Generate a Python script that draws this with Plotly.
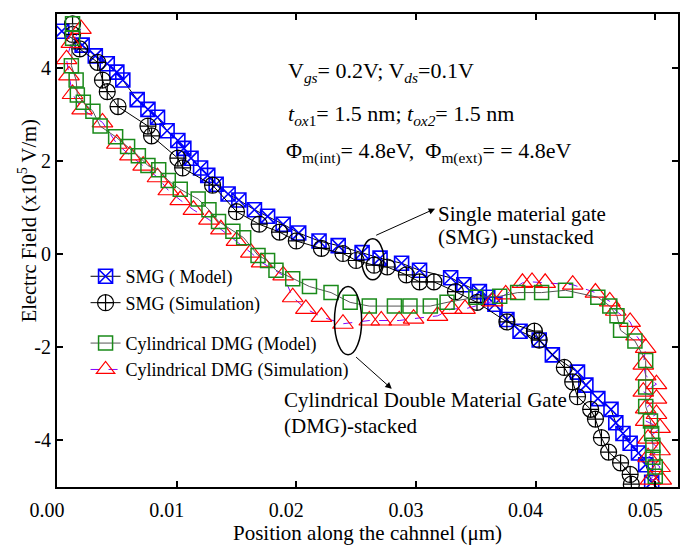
import plotly.graph_objects as go

# ---------------- data ----------------
smg_model_x = [0.0004, 0.0021, 0.0032, 0.0042, 0.0050, 0.0055, 0.0067, 0.0076, 0.0084, 0.0092,
               0.0101, 0.0106, 0.0112, 0.0120, 0.0126, 0.0133, 0.0143, 0.0152, 0.0165, 0.0176,
               0.0189, 0.0202, 0.0219, 0.0235, 0.0255, 0.0270, 0.0288, 0.0303, 0.0329, 0.0340,
               0.0353, 0.0360, 0.0366, 0.0376, 0.0387, 0.0403, 0.0414, 0.0435, 0.0442, 0.0452,
               0.0463, 0.0467, 0.0473, 0.0479, 0.0486, 0.0492, 0.0497]
smg_model_y = [4.80, 4.50, 4.27, 4.10, 3.92, 3.75, 3.33, 3.12, 2.95, 2.66,
               2.45, 2.28, 2.07, 1.86, 1.70, 1.51, 1.30, 1.17, 0.96, 0.82,
               0.65, 0.46, 0.29, 0.19, 0.04, -0.08, -0.19, -0.34, -0.50, -0.65,
               -0.80, -0.92, -1.07, -1.40, -1.65, -1.84, -2.16, -2.53, -2.81, -3.10,
               -3.33, -3.62, -3.85, -4.06, -4.27, -4.52, -4.90]

smg_sim_x = [0.0013, 0.0013, 0.0019, 0.0034, 0.0038, 0.0042, 0.0051, 0.0076, 0.0079, 0.0101,
             0.0105, 0.0130, 0.0150, 0.0169, 0.0186, 0.0200, 0.0221, 0.0239, 0.0250, 0.0265,
             0.0276, 0.0292, 0.0303, 0.0315, 0.0333, 0.0351, 0.0376, 0.0399, 0.0403, 0.0424,
             0.0431, 0.0435, 0.0446, 0.0450, 0.0455, 0.0461, 0.0471, 0.0479, 0.0480]
smg_sim_y = [4.96, 4.73, 4.42, 4.13, 3.75, 3.50, 3.18, 2.76, 2.55, 2.07,
             1.86, 1.49, 0.92, 0.65, 0.48, 0.29, 0.13, 0.02, -0.13, -0.23,
             -0.27, -0.44, -0.59, -0.59, -0.80, -1.03, -1.45, -1.65, -1.84, -2.43,
             -2.74, -3.06, -3.33, -3.54, -3.94, -4.25, -4.48, -4.73, -4.94]

dmg_model_x = [0.0013, 0.0013, 0.0012, 0.0016, 0.0017, 0.0022, 0.0030, 0.0036, 0.0049, 0.0059,
               0.0068, 0.0076, 0.0085, 0.0093, 0.0103, 0.0118, 0.0127, 0.0135, 0.0147, 0.0156,
               0.0168, 0.0176, 0.0183, 0.0197, 0.0211, 0.0229, 0.0245, 0.0261, 0.0282, 0.0295,
               0.0312, 0.0326, 0.0350, 0.0370, 0.0385, 0.0405, 0.0425, 0.0452, 0.0462, 0.0468,
               0.0471, 0.0483, 0.0492, 0.0492, 0.0492, 0.0496, 0.0497, 0.0498, 0.0498, 0.0500,
               0.0500]
dmg_model_y = [4.96, 4.65, 4.06, 3.75, 3.43, 3.27, 3.08, 2.76, 2.53, 2.32,
               2.12, 1.91, 1.82, 1.59, 1.40, 1.19, 0.96, 0.71, 0.50, 0.36,
               -0.02, -0.13, -0.34, -0.52, -0.69, -0.82, -1.03, -1.11, -1.11, -1.11,
               -1.11, -1.03, -0.92, -0.90, -0.82, -0.82, -0.77, -0.92, -1.11, -1.32,
               -1.63, -1.86, -2.28, -2.85, -3.27, -3.58, -3.85, -4.10, -4.36, -4.57,
               -4.77]

dmg_sim_x = [0.0020, 0.0012, 0.0008, 0.0010, 0.0013, 0.0021, 0.0038, 0.0050, 0.0061, 0.0072,
             0.0084, 0.0093, 0.0103, 0.0114, 0.0127, 0.0137, 0.0150, 0.0162, 0.0171, 0.0189,
             0.0197, 0.0208, 0.0221, 0.0239, 0.0261, 0.0271, 0.0286, 0.0298, 0.0318, 0.0330,
             0.0341, 0.0364, 0.0375, 0.0389, 0.0397, 0.0408, 0.0431, 0.0450, 0.0462, 0.0467,
             0.0479, 0.0484, 0.0492, 0.0490, 0.0492, 0.0501, 0.0490, 0.0501, 0.0492, 0.0501,
             0.0492, 0.0504, 0.0494, 0.0504, 0.0494, 0.0504, 0.0496, 0.0505]
dmg_sim_y = [4.85, 4.55, 4.20, 3.85, 3.45, 3.12, 2.84, 2.38, 2.13, 1.91,
             1.66, 1.38, 1.17, 0.96, 0.75, 0.54, 0.29, 0.04, -0.17, -0.45,
             -0.92, -1.17, -1.34, -1.49, -1.42, -1.42, -1.42, -1.38, -1.32, -1.17,
             -1.17, -1.01, -0.86, -0.61, -0.59, -0.61, -0.65, -0.82, -1.01, -1.21,
             -1.45, -1.74, -2.01, -2.37, -2.60, -2.79, -2.95, -3.10, -3.31, -3.43,
             -3.58, -3.73, -3.96, -4.21, -4.36, -4.57, -4.84, -4.84]

x_tick_vals = [0.00, 0.01, 0.02, 0.03, 0.04, 0.05]
x_tick_text = ["0.00", "0.01", "0.02", "0.03", "0.04", "0.05"]
y_tick_vals = [-4, -2, 0, 2, 4]
y_tick_text = ["-4", "-2", "0", "2", "4"]

FONT = "Liberation Serif"

fig = go.Figure()

fig.add_trace(go.Scatter(
    x=smg_model_x, y=smg_model_y, mode="lines+markers", name="SMG ( Model)",
    legendgroup="smg",
    line=dict(color="black", width=1),
    marker=dict(symbol="square-x-open", size=14, color="blue", line=dict(width=1.6, color="blue")),
))
fig.add_trace(go.Scatter(
    x=smg_sim_x, y=smg_sim_y, mode="lines+markers", name="SMG (Simulation)",
    legendgroup="smg",
    line=dict(color="black", width=1),
    marker=dict(symbol="circle-cross-open", size=16, color="black", line=dict(width=1.2, color="black")),
))
fig.add_trace(go.Scatter(
    x=dmg_sim_x, y=dmg_sim_y, mode="lines+markers", name="Cylindrical DMG (Simulation)",
    legendgroup="dmg", legendrank=1002,
    line=dict(color="#8000ff", width=1, dash="dash"),
    marker=dict(symbol="triangle-up-open", size=18, color="red", line=dict(width=1.2, color="red")),
))
fig.add_trace(go.Scatter(
    x=dmg_model_x, y=dmg_model_y, mode="lines+markers", name="Cylindrical DMG (Model)",
    legendgroup="dmg", legendrank=1001,
    line=dict(color="#555555", width=1),
    marker=dict(symbol="square-open", size=14, color="#1a8a1a", line=dict(width=1.5, color="#1a8a1a")),
))

# ellipses and arrows (annotation decorations)
fig.add_shape(type="circle", xref="x", yref="y", x0=0.02546, x1=0.02731, y0=-0.545, y1=0.335,
              line=dict(color="black", width=1.5))
fig.add_shape(type="circle", xref="x", yref="y", x0=0.02319, x1=0.02546, y0=-2.157, y1=-0.691,
              line=dict(color="black", width=1.5))
fig.add_annotation(x=0.03160, y=0.984, ax=0.02655, ay=0.398, xref="x", yref="y", axref="x", ayref="y",
                   text="", showarrow=True, arrowhead=2, arrowsize=1.3, arrowwidth=1, arrowcolor="black")
fig.add_annotation(x=0.02798, y=-2.890, ax=0.02487, ay=-2.178, xref="x", yref="y", axref="x", ayref="y",
                   text="", showarrow=True, arrowhead=2, arrowsize=1.3, arrowwidth=1, arrowcolor="black")

txt_font = dict(family=FONT, size=22, color="black")
lbl_font = dict(family=FONT, size=21, color="black")


def add_text(x, y, text, font):
    fig.add_annotation(x=x, y=y, xref="x", yref="y", xanchor="left", yanchor="middle",
                       showarrow=False, align="left", text=text, font=font)


add_text(0.0191, 3.92, "V<sub><i>gs</i></sub>= 0.2V; V<sub><i>ds</i></sub>=0.1V", txt_font)
add_text(0.0191, 2.99, "<i>t</i><sub><i>ox</i>1</sub>= 1.5 nm; <i>t</i><sub><i>ox2</i></sub>= 1.5 nm", txt_font)
add_text(0.0190, 2.20, "Φ<sub>m(int)</sub>= 4.8eV,  Φ<sub>m(ext)</sub>= = 4.8eV", txt_font)
add_text(0.0317, 0.86, "Single material gate", lbl_font)
add_text(0.0317, 0.38, "(SMG) -unstacked", lbl_font)
add_text(0.0188, -3.12, "Cylindrical Double Material Gate", lbl_font)
add_text(0.0188, -3.69, "(DMG)-stacked", lbl_font)

# y-axis title (sits above the axis centre in the reference)
fig.add_annotation(x=-0.048, y=0.562, xref="paper", yref="paper", xanchor="center", yanchor="middle",
                   showarrow=False, textangle=-90,
                   text="Electrc Field (x10<sup>5</sup> V/m)", font=dict(family=FONT, size=20.5, color="black"))

axis_common = dict(
    showline=True, linecolor="black", linewidth=2, mirror="ticks",
    ticks="inside", ticklen=6, tickwidth=1.5, tickcolor="black",
    showgrid=False, zeroline=False,
    tickfont=dict(family=FONT, size=20, color="black"),
)

fig.update_xaxes(range=[0, 0.0519], tickvals=x_tick_vals, ticktext=x_tick_text, ticklabelshift=-10,
                 ticklabelstandoff=4,
                 title=dict(text="Position along the cahnnel (μm)", font=dict(family=FONT, size=21, color="black"),
                            standoff=2),
                 **axis_common)
fig.update_yaxes(range=[-5.0, 5.17], tickvals=y_tick_vals, ticktext=y_tick_text,
                 **axis_common)

fig.update_layout(
    width=692, height=550,
    margin=dict(l=57, r=13, t=12, b=52),
    plot_bgcolor="white", paper_bgcolor="white",
    font=dict(family=FONT, color="black"),
    legend=dict(x=0.046, y=0.484, xanchor="left", yanchor="top",
                bgcolor="rgba(0,0,0,0)", borderwidth=0,
                font=dict(family=FONT, size=18, color="black"),
                traceorder="grouped", tracegroupgap=14, itemsizing="trace"),
)

fig.write_html("out.html")
